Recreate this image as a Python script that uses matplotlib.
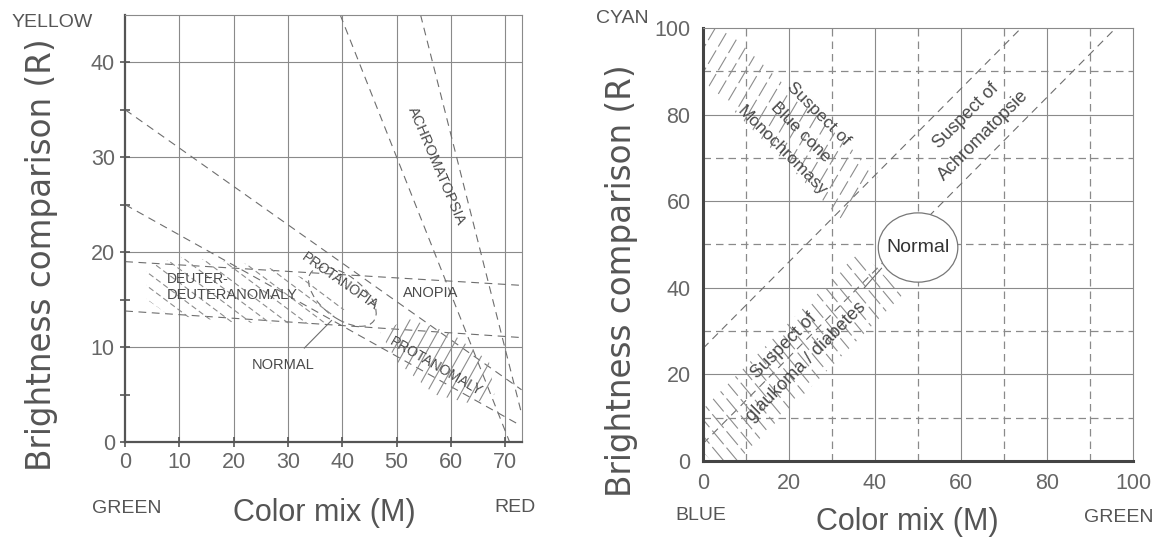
import numpy as np
import matplotlib.pyplot as plt
from matplotlib.patches import Polygon, Ellipse

plt.rcParams['font.family'] = ['Liberation Sans', 'DejaVu Sans']

# ---- left chart: red / green anomaloscope ----
rg_xticks = [0, 10, 20, 30, 40, 50, 60, 70]
rg_yticks = [0, 10, 20, 30, 40]
rg_yminor = [5, 15, 25, 35]
rg_xmax = 73
rg_ymax = 45
# dashed boundary lines (start point, end point)
rg_lines = [
    [(0, 35), (73, 5.5)],
    [(0, 25), (72, 2)],
    [(0, 19), (73, 16.5)],
    [(0, 13.8), (73, 11)],
    [(39.6, 45), (70.8, 0)],
    [(54.4, 45), (73, 3)],
]
# hatched regions
rg_deuter_region = [(4, 18.5), (10, 19.5), (25, 18.6), (36, 16.8), (41, 14.2),
                    (36, 12.4), (20, 12.6), (8, 13.4), (4, 15)]
rg_protan_region = [(47, 11.5), (52, 13), (60, 11.5), (67, 8.5), (68, 5),
                    (64, 4), (57, 5), (50, 8.5)]
rg_labels = ['DEUTER-', 'DEUTERANOMALY', 'PROTANOPIA', 'ANOPIA',
             'PROTANOMALY', 'ACHROMATOPSIA', 'NORMAL']

# ---- right chart: blue / green anomaloscope ----
bg_ticks = [0, 20, 40, 60, 80, 100]
bg_dashed_grid = [10, 30, 50, 70, 90]
bg_lines = [
    [(0, 26), (74, 100)],
    [(0, 4), (96, 100)],
]
bg_bluecone_region = [(0, 88), (0, 100), (5, 100), (41, 66), (32, 56)]
bg_glaukoma_region = [(0, 2), (0, 12), (36.5, 48.5), (46.5, 38.5), (8, 0), (2, 0)]
bg_normal = (50, 49.3)

txt = '#4a4a4a'
ln = '#6e6e6e'
grid = '#8a8a8a'
hatchc = '#8c8c8c'


def hatch_region(ax, verts, slope, step, dashes=None):
    # parallel strokes (slope and step in pixels) clipped to a polygon
    clip = Polygon(verts, closed=True, fill=False, lw=0)
    ax.add_patch(clip)
    bb = ax.get_window_extent()
    x0, x1 = ax.get_xlim()
    y0, y1 = ax.get_ylim()
    sx = bb.width / (x1 - x0)
    sy = bb.height / (y1 - y0)
    v = np.array(verts)
    px = v[:, 0] * sx
    py = v[:, 1] * sy
    cs = py - slope * px
    dc = step * np.sqrt(1 + slope ** 2)
    xs = np.array([px.min() - 5, px.max() + 5])
    for c in np.arange(cs.min(), cs.max() + dc, dc):
        ys = slope * xs + c
        kw = dict(color=hatchc, lw=0.8, zorder=2)
        if dashes is not None:
            kw['dashes'] = dashes
        l, = ax.plot(xs / sx, ys / sy, **kw)
        l.set_clip_path(clip)


fig = plt.figure(figsize=(11.59, 5.4), dpi=100)

# ================= left =================
ax = fig.add_axes([0.108, 0.1815, 0.342, 0.791])
ax.set_xlim(0, rg_xmax)
ax.set_ylim(0, rg_ymax)
for x in rg_xticks[1:]:
    ax.axvline(x, color=grid, lw=0.8, zorder=1)
for y in rg_yticks[1:]:
    ax.axhline(y, color=grid, lw=0.8, zorder=1)
for (p0, p1) in rg_lines:
    ax.plot([p0[0], p1[0]], [p0[1], p1[1]], color=ln, lw=0.8,
            dashes=(7, 5), zorder=2)
ax.add_patch(Ellipse((40, 15.3), 13, 5, angle=-18, fill=False, ec=ln,
                     lw=0.8, ls=(0, (6, 4)), zorder=2))
hatch_region(ax, rg_deuter_region, -0.75, 11, dashes=(5, 3))
hatch_region(ax, rg_protan_region, 1.8, 10)
ax.plot([33, 38], [9.9, 12.8], color=ln, lw=0.8, zorder=2)

lab = dict(color=txt, ha='center', va='center', zorder=4)
ax.text(13.4, 17.2, rg_labels[0], fontsize=10, **lab)
ax.text(19.7, 15.5, rg_labels[1], fontsize=10.5, **lab)
ax.text(39.6, 16.9, rg_labels[2], fontsize=10, rotation=-35, **lab)
ax.text(56.2, 15.7, rg_labels[3], fontsize=10.5, **lab)
ax.text(57.3, 7.9, rg_labels[4], fontsize=10, rotation=-30, **lab)
ax.text(57.3, 29.1, rg_labels[5], fontsize=10.5, rotation=-67, **lab)
ax.text(29.1, 8.1, rg_labels[6], fontsize=10.5, **lab)

ax.set_xticks(rg_xticks)
ax.set_yticks(rg_yticks)
ax.set_yticks(rg_yminor, minor=True)
ax.tick_params(axis='both', which='both', direction='inout', length=7,
               width=1.2, color='#555555', labelsize=15.5, labelcolor='#666666',
               pad=4)
for s in ['left', 'bottom']:
    ax.spines[s].set_linewidth(1.6)
    ax.spines[s].set_color('#555555')
for s in ['top', 'right']:
    ax.spines[s].set_linewidth(0.8)
    ax.spines[s].set_color(grid)

# ================= right =================
bx = fig.add_axes([0.6066, 0.1463, 0.371, 0.8019])
bx.set_xlim(0, 100)
bx.set_ylim(0, 100)
for v in bg_ticks[1:-1]:
    bx.axvline(v, color=grid, lw=0.8, zorder=1)
    bx.axhline(v, color=grid, lw=0.8, zorder=1)
for v in bg_dashed_grid:
    bx.axvline(v, color=grid, lw=0.9, dashes=(6, 4), zorder=1)
    bx.axhline(v, color=grid, lw=0.9, dashes=(6, 4), zorder=1)
for (p0, p1) in bg_lines:
    bx.plot([p0[0], p1[0]], [p0[1], p1[1]], color=ln, lw=0.8,
            dashes=(7, 5), zorder=2)
hatch_region(bx, bg_bluecone_region, 1.7, 12, dashes=(14, 4))
hatch_region(bx, bg_glaukoma_region, -1.2, 10.5, dashes=(16, 4))
bx.add_patch(Ellipse(bg_normal, 18.5, 16, fc='white', ec='#777777', lw=0.9,
                     zorder=3))
bx.plot([41.5, 37.5], [44.5, 40], color=ln, lw=0.8, zorder=3)
bx.text(bg_normal[0], bg_normal[1], 'Normal', fontsize=14, color='#333333',
        ha='center', va='center', zorder=4)

bx.text(26.8, 80.2, 'Suspect of', fontsize=12.5, rotation=-45, **lab)
bx.text(22.6, 76, 'Blue cone', fontsize=12.5, rotation=-45, **lab)
bx.text(18.4, 71.6, 'Monochromasy', fontsize=12.5, rotation=-45, **lab)
bx.text(61.2, 79.6, 'Suspect of', fontsize=13, rotation=45, **lab)
bx.text(65.3, 75.1, 'Achromatopsie', fontsize=13, rotation=45, **lab)
bx.text(18.9, 26.6, 'Suspect of', fontsize=13, rotation=45, **lab)
bx.text(23.9, 23.0, 'glaukoma / diabetes', fontsize=13, rotation=45, **lab)

bx.set_xticks(bg_ticks)
bx.set_yticks(bg_ticks)
bx.tick_params(axis='both', length=0, labelsize=15.5, labelcolor='#666666', pad=9)
for s in ['left', 'bottom']:
    bx.spines[s].set_linewidth(2.2)
    bx.spines[s].set_color('#444444')
for s in ['top', 'right']:
    bx.spines[s].set_linewidth(0.8)
    bx.spines[s].set_color(grid)

# ---- outer labels ----
out = dict(color='#555555', ha='center', va='center')
fig.text(0.036, 0.528, 'Brightness comparison (R)', rotation=90, fontsize=23.5,
         family='DejaVu Sans', **out)
fig.text(0.045, 0.959, 'YELLOW', fontsize=14, **out)
fig.text(0.109, 0.059, 'GREEN', fontsize=14, **out)
fig.text(0.444, 0.061, 'RED', fontsize=14, **out)
fig.text(0.28, 0.05, 'Color mix (M)', fontsize=22, **out)

fig.text(0.536, 0.481, 'Brightness comparison (R)', rotation=90, fontsize=23.5,
         family='DejaVu Sans', **out)
fig.text(0.537, 0.965, 'CYAN', fontsize=14, **out)
fig.text(0.605, 0.046, 'BLUE', fontsize=14, **out)
fig.text(0.965, 0.041, 'GREEN', fontsize=14, **out)
fig.text(0.783, 0.033, 'Color mix (M)', fontsize=22, **out)

fig.savefig('out.png', dpi=100)
